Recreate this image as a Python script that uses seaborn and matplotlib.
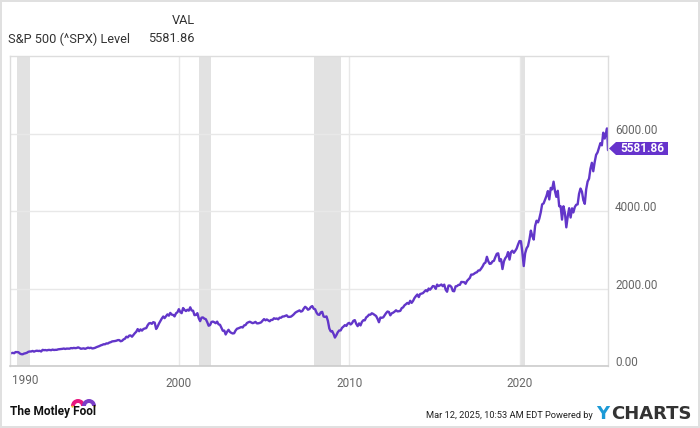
import matplotlib
matplotlib.use("Agg")
import matplotlib.pyplot as plt
import matplotlib.transforms as mtransforms
from matplotlib.patches import Polygon, Wedge, Circle
import seaborn as sns
import pandas as pd


# ---------------- DATA (S&P 500 month-end level) ----------------
spx_monthly = [
    329.1, 331.9, 339.9, 330.8, 361.2, 358.0, 356.2, 322.6, 306.1, 304.0, 322.2, 330.2,  # 1990
    343.9, 367.1, 375.2, 375.3, 389.8, 371.2, 387.8, 395.4, 387.9, 392.5, 375.2, 417.1,  # 1991
    408.8, 412.7, 403.7, 414.9, 415.4, 408.1, 424.2, 414.0, 417.8, 418.7, 431.4, 435.7,  # 1992
    438.8, 443.4, 451.7, 440.2, 450.2, 450.5, 448.1, 463.6, 458.9, 467.8, 461.8, 466.5,  # 1993
    481.6, 467.1, 445.8, 450.9, 456.5, 444.3, 458.3, 475.5, 462.7, 472.4, 453.7, 459.3,  # 1994
    470.4, 487.4, 500.7, 514.7, 533.4, 544.8, 562.1, 561.9, 584.4, 581.5, 605.4, 615.9,  # 1995
    636.0, 640.4, 645.5, 654.2, 669.1, 670.6, 639.9, 652.0, 687.3, 705.3, 757.0, 740.7,  # 1996
    786.2, 791.0, 757.1, 801.3, 848.3, 885.1, 954.3, 899.5, 947.3, 914.6, 955.4, 970.4,  # 1997
    980.3, 1049.3, 1101.8, 1111.8, 1090.8, 1133.8, 1120.7, 957.3, 1017.0, 1098.7, 1163.6, 1229.2,  # 1998
    1279.6, 1238.3, 1286.4, 1335.2, 1301.8, 1372.7, 1328.7, 1320.4, 1282.7, 1362.9, 1389.0, 1469.3,  # 1999
    1394.5, 1366.4, 1498.6, 1452.4, 1420.6, 1454.6, 1430.8, 1517.7, 1436.5, 1429.4, 1315.2, 1320.3,  # 2000
    1366.0, 1239.9, 1160.3, 1249.5, 1255.8, 1224.4, 1211.2, 1133.6, 1040.9, 1059.8, 1139.5, 1148.1,  # 2001
    1130.2, 1106.7, 1147.4, 1076.9, 1067.1, 989.8, 911.6, 916.1, 815.3, 885.8, 936.3, 879.8,  # 2002
    855.7, 841.2, 848.2, 916.9, 963.6, 974.5, 990.3, 1008.0, 996.0, 1050.7, 1058.2, 1111.9,  # 2003
    1131.1, 1144.9, 1126.2, 1107.3, 1120.7, 1140.8, 1101.7, 1104.2, 1114.6, 1130.2, 1173.8, 1211.9,  # 2004
    1181.3, 1203.6, 1180.6, 1156.9, 1191.5, 1191.3, 1234.2, 1220.3, 1228.8, 1207.0, 1249.5, 1248.3,  # 2005
    1280.1, 1280.7, 1294.9, 1310.6, 1270.1, 1270.2, 1276.7, 1303.8, 1335.9, 1377.9, 1400.6, 1418.3,  # 2006
    1438.2, 1406.8, 1420.9, 1482.4, 1530.6, 1503.4, 1455.3, 1474.0, 1526.8, 1549.4, 1481.1, 1468.4,  # 2007
    1378.6, 1330.6, 1322.7, 1385.6, 1400.4, 1280.0, 1267.4, 1282.8, 1166.4, 968.8, 896.2, 903.3,  # 2008
    825.9, 735.1, 797.9, 872.8, 919.1, 919.3, 987.5, 1020.6, 1057.1, 1036.2, 1095.6, 1115.1,  # 2009
    1073.9, 1104.5, 1169.4, 1186.7, 1089.4, 1030.7, 1101.6, 1049.3, 1141.2, 1183.3, 1180.6, 1257.6,  # 2010
    1286.1, 1327.2, 1325.8, 1363.6, 1345.2, 1320.6, 1292.3, 1218.9, 1131.4, 1253.3, 1247.0, 1257.6,  # 2011
    1312.4, 1365.7, 1408.5, 1397.9, 1310.3, 1362.2, 1379.3, 1406.6, 1440.7, 1412.2, 1416.2, 1426.2,  # 2012
    1498.1, 1514.7, 1569.2, 1597.6, 1630.7, 1606.3, 1685.7, 1633.0, 1681.6, 1756.5, 1805.8, 1848.4,  # 2013
    1782.6, 1859.5, 1872.3, 1884.0, 1923.6, 1960.2, 1930.7, 2003.4, 1972.3, 2018.1, 2067.6, 2058.9,  # 2014
    1995.0, 2104.5, 2067.9, 2085.5, 2107.4, 2063.1, 2103.8, 1972.2, 1920.0, 2079.4, 2080.4, 2043.9,  # 2015
    1940.2, 1932.2, 2059.7, 2065.3, 2097.0, 2098.9, 2173.6, 2171.0, 2168.3, 2126.2, 2198.8, 2238.8,  # 2016
    2278.9, 2363.6, 2362.7, 2384.2, 2411.8, 2423.4, 2470.3, 2471.7, 2519.4, 2575.3, 2647.6, 2673.6,  # 2017
    2823.8, 2713.8, 2640.9, 2648.1, 2705.3, 2718.4, 2816.3, 2901.5, 2914.0, 2711.7, 2760.2, 2506.9,  # 2018
    2704.1, 2784.5, 2834.4, 2945.8, 2752.1, 2941.8, 2980.4, 2926.5, 2976.7, 3037.6, 3141.0, 3230.8,  # 2019
    3225.5, 2954.2, 2584.6, 2912.4, 3044.3, 3100.3, 3271.1, 3500.3, 3363.0, 3270.0, 3621.6, 3756.1,  # 2020
    3714.2, 3811.2, 3972.9, 4181.2, 4204.1, 4297.5, 4395.3, 4522.7, 4307.5, 4605.4, 4567.0, 4766.2,  # 2021
    4515.6, 4373.9, 4530.4, 4131.9, 4132.2, 3785.4, 4130.3, 3955.0, 3585.6, 3872.0, 4080.1, 3839.5,  # 2022
    4076.6, 3970.2, 4109.3, 4169.5, 4179.8, 4450.4, 4589.0, 4507.7, 4288.1, 4193.8, 4567.8, 4769.8,  # 2023
    4845.7, 5096.3, 5254.4, 5035.7, 5277.5, 5460.5, 5522.3, 5648.4, 5762.5, 5705.5, 6032.4, 5881.6,  # 2024
    6040.5,  # Jan 2025
]
# last few points of 2025 (peak, month end, latest)
recent_dates = ["2025-02-19", "2025-02-28", "2025-03-12"]
recent_values = [6144.2, 5954.5, 5581.86]

last_value = 5581.86
series_name = "S&P 500 (^SPX) Level"

recession_start = ["1990-07-01", "2001-03-01", "2007-12-01", "2020-02-01"]
recession_end = ["1991-03-31", "2001-11-30", "2009-06-30", "2020-04-30"]

y_ticks = [0, 2000, 4000, 6000]
x_tick_years = [2000, 2010, 2020]

line_color = "#6236c9"
grid_color = "#e8e8e8"
band_color = "#e2e2e2"
text_gray = "#666666"

# ---------------- BUILD FRAME ----------------
month_dates = pd.date_range("1990-01-31", periods=len(spx_monthly), freq="ME")
df = pd.DataFrame({
    "date": list(month_dates) + list(pd.to_datetime(recent_dates)),
    "level": spx_monthly + recent_values,
})

# ---------------- FIGURE ----------------
sns.set_theme(style="white")
plt.rcParams["font.family"] = ["Roboto", "DejaVu Sans"]

W, H = 700, 428
fig = plt.figure(figsize=(W / 100, H / 100), dpi=100)
fig.patch.set_facecolor("white")
ax = fig.add_axes([10 / W, (H - 366) / H, 598 / W, 310 / H])

sns.lineplot(data=df, x="date", y="level", color=line_color, linewidth=1.7, ax=ax)

for s, e in zip(recession_start, recession_end):
    ax.axvspan(pd.Timestamp(s), pd.Timestamp(e), color=band_color, lw=0, zorder=0)

ax.set_xlim(df["date"].min(), df["date"].max())
ax.set_ylim(0, 8016)

# grid
ax.set_yticks(y_ticks)
ax.set_yticklabels([f"{v:.2f}" for v in y_ticks])
ax.set_xticks([pd.Timestamp(f"{y}-01-01") for y in x_tick_years])
ax.set_xticklabels([str(y) for y in x_tick_years])
ax.grid(True, color=grid_color, linewidth=1.0, zorder=0)
ax.set_axisbelow(True)

ax.yaxis.tick_right()
ax.tick_params(axis="y", length=0, pad=5, labelsize=8.5, labelcolor=text_gray)
ax.tick_params(axis="x", length=0, pad=8, labelsize=8.5, labelcolor=text_gray)
for lab in ax.get_yticklabels():
    lab.set_transform(lab.get_transform() + mtransforms.ScaledTranslation(0, 5 / 100, fig.dpi_scale_trans))
    lab.set_horizontalalignment("left")

ax.text(2 / 598, -8 / 310, "1990", transform=ax.transAxes, ha="left", va="top",
        fontsize=8.5, color=text_gray)

for side in ["top", "left", "right"]:
    ax.spines[side].set_color("#dddddd")
    ax.spines[side].set_linewidth(1.0)
ax.spines["bottom"].set_color("#cccccc")
ax.spines["bottom"].set_linewidth(1.2)
ax.set_xlabel("")
ax.set_ylabel("")

# ---------------- LAST VALUE TAG ----------------
tag_cy = 148.5
tag_pts = [(609, 0), (616, 6.5), (668, 6.5), (668, -6.5), (616, -6.5)]
tag = Polygon([(x / W, (H - tag_cy + dy) / H) for x, dy in tag_pts], closed=True,
              facecolor="#6633cc", edgecolor="none", transform=fig.transFigure)
fig.patches.append(tag)
fig.text(642 / W, (H - tag_cy) / H, f"{last_value:.2f}", ha="center", va="center",
         fontsize=8.5, color="white", fontweight="bold")

# ---------------- HEADER ----------------
fig.text(195 / W, (H - 21) / H, "VAL", ha="right", va="center", fontsize=9.2, color="#333333")
fig.text(8 / W, (H - 39) / H, series_name, ha="left", va="center", fontsize=9.2, color="#333333")
fig.text(195 / W, (H - 39) / H, f"{last_value:.2f}", ha="right", va="center", fontsize=9.2,
         color="#333333")

# ---------------- FOOTER ----------------
fig.text(10 / W, (H - 412) / H, "The Motley Fool", ha="left", va="center", fontsize=8.6,
         fontweight="bold", color="#111111")
# little jester hat above "Fool"
sx = fig.dpi_scale_trans
hat_pink = Wedge((78 / 100, (H - 406) / 100), 7 / 100, 0, 180, width=4 / 100,
                 facecolor="#e8177f", edgecolor="none", transform=sx)
hat_purple = Wedge((89 / 100, (H - 406) / 100), 7 / 100, 0, 180, width=4 / 100,
                   facecolor="#7a3ec8", edgecolor="none", transform=sx)
fig.patches.extend([hat_pink, hat_purple])
for cx in [72.5, 94.5]:
    fig.patches.append(Circle((cx / 100, (H - 406.5) / 100), 1.1 / 100, facecolor="#f2b61c",
                              edgecolor="none", transform=sx))

fig.text(593 / W, (H - 415) / H, "Mar 12, 2025, 10:53 AM EDT Powered by", ha="right", va="center",
         fontsize=6.7, color="#222222")
fig.text(609 / W, (H - 414) / H, "Y", ha="right", va="center", fontsize=13, fontweight="bold",
         color="#1c9ad6", family="DejaVu Sans")
fig.text(692 / W, (H - 414) / H, "CHARTS", ha="right", va="center", fontsize=13, fontweight="bold",
         color="#333333", family="DejaVu Sans")

fig.patch.set_edgecolor("#e0e0e0")
fig.patch.set_linewidth(1.5)

plt.savefig("out.png", dpi=100, facecolor=fig.get_facecolor(), edgecolor=fig.get_edgecolor())
plt.close()
